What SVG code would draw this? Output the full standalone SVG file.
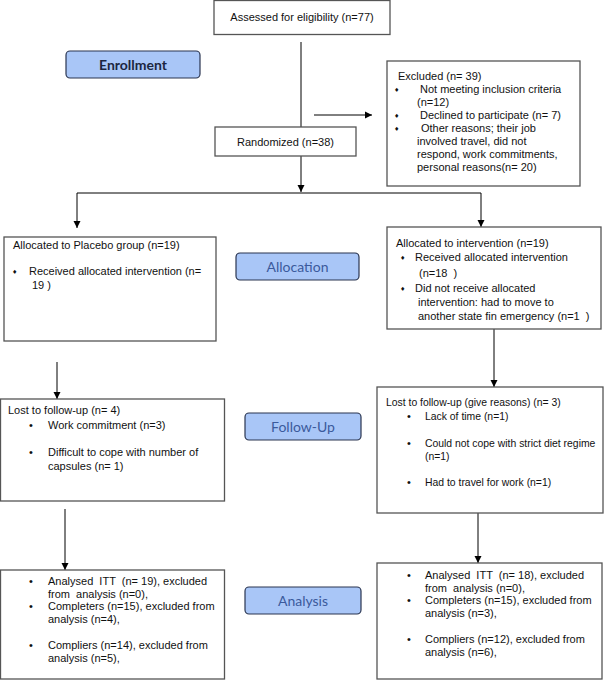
<svg xmlns="http://www.w3.org/2000/svg" width="615" height="685" viewBox="0 0 615 685">
<defs>
<marker id="ah" markerWidth="8" markerHeight="8" refX="7" refY="4" orient="auto" markerUnits="userSpaceOnUse">
<path d="M0,0.5 L7,4 L0,7.5 Z" fill="#000"/>
</marker>
<style>
.box{fill:#fff;stroke:#555;stroke-width:1.3}
.lab{fill:#a9c6f7;stroke:#2a3550;stroke-width:1.2}
.t{font-family:"Liberation Sans",Arial,sans-serif;font-size:11px;fill:#111;white-space:pre}
.s{font-size:10.4px}
.b{font-family:"DejaVu Sans",sans-serif;font-size:6px;fill:#111}
.d{font-family:"Liberation Sans",Arial,sans-serif;font-size:11px;fill:#111}
.lt{font-family:Lato,"Open Sans",sans-serif;font-size:14px;fill:#3b5a9c;text-anchor:middle}
.ln{fill:none;stroke:#000;stroke-width:1}
</style>
</defs>
<rect width="615" height="685" fill="#fff"/>

<g id="connectors">
<line class="ln" x1="301" y1="42" x2="301" y2="127"/>
<line class="ln" x1="314" y1="115" x2="372" y2="115" marker-end="url(#ah)"/>
<line class="ln" x1="301" y1="156" x2="301" y2="192" marker-end="url(#ah)"/>
<line class="ln" x1="77" y1="193" x2="481" y2="193"/>
<line class="ln" x1="77" y1="193" x2="77" y2="228" marker-end="url(#ah)"/>
<line class="ln" x1="481" y1="193" x2="481" y2="227" marker-end="url(#ah)"/>
<line class="ln" x1="57" y1="362" x2="57" y2="399" marker-end="url(#ah)"/>
<line class="ln" x1="494" y1="329" x2="494" y2="387" marker-end="url(#ah)"/>
<line class="ln" x1="65" y1="509" x2="65" y2="570" marker-end="url(#ah)"/>
<line class="ln" x1="478" y1="513" x2="478" y2="563" marker-end="url(#ah)"/>
</g>

<g id="assessed">
<rect class="box" x="214" y="0.5" width="176" height="34"/>
<text class="t" x="302" y="21" text-anchor="middle">Assessed for eligibility (n=77)</text>
</g>

<g id="enrollment">
<rect class="lab" x="66" y="51" width="134" height="27" rx="4"/>
<text class="lt" x="133" y="69.5" style="font-weight:bold;fill:#1c2640">Enrollment</text>
</g>

<g id="excluded">
<rect class="box" x="387" y="61" width="193" height="125"/>
<text class="t" x="398" y="80">Excluded (n= 39)</text>
<text class="b" x="394" y="92">♦</text>
<text class="t" x="420" y="93">Not meeting inclusion criteria</text>
<text class="t" x="417" y="106">(n=12)</text>
<text class="b" x="394" y="118">♦</text>
<text class="t" x="420" y="119">Declined to participate (n= 7)</text>
<text class="b" x="394" y="131">♦</text>
<text class="t" x="421" y="132">Other reasons; their job</text>
<text class="t" x="417" y="145">involved travel, did not</text>
<text class="t" x="417" y="158">respond, work commitments,</text>
<text class="t" x="417" y="171">personal reasons(n= 20)</text>
</g>

<g id="randomized">
<rect class="box" x="215" y="127" width="141" height="29"/>
<text class="t" x="285.5" y="146" text-anchor="middle">Randomized (n=38)</text>
</g>

<g id="placebo">
<rect class="box" x="4" y="237" width="212" height="104"/>
<text class="t" x="13" y="249">Allocated to Placebo group (n=19)</text>
<text class="b" x="12" y="274">♦</text>
<text class="t" x="29" y="275">Received allocated intervention (n=</text>
<text class="t" x="32" y="289">19 )</text>
</g>

<g id="allocation">
<rect class="lab" x="236" y="253" width="123" height="27" rx="4"/>
<text class="lt" x="297.5" y="271.5">Allocation</text>
</g>

<g id="intervention">
<rect class="box" x="387" y="227" width="214" height="102"/>
<text class="t" x="396" y="247">Allocated to intervention (n=19)</text>
<text class="b" x="400" y="260">♦</text>
<text class="t" x="415" y="261">Received allocated intervention</text>
<text class="t" x="419" y="277">(n=18  )</text>
<text class="b" x="400" y="291">♦</text>
<text class="t" x="415" y="292">Did not receive allocated</text>
<text class="t" x="418" y="306">intervention: had to move to</text>
<text class="t" x="418" y="320">another state fin emergency (n=1  )</text>
</g>

<g id="lost-placebo">
<rect class="box" x="0.5" y="399" width="224" height="102"/>
<text class="t" x="8" y="414">Lost to follow-up (n= 4)</text>
<text class="d" x="29" y="429">•</text>
<text class="t" x="48" y="429">Work commitment (n=3)</text>
<text class="d" x="29" y="456">•</text>
<text class="t" x="48" y="456">Difficult to cope with number of</text>
<text class="t" x="48" y="470">capsules (n= 1)</text>
</g>

<g id="followup">
<rect class="lab" x="245" y="413" width="116" height="27" rx="4"/>
<text class="lt" x="303" y="431.5">Follow-Up</text>
</g>

<g id="lost-intervention">
<rect class="box" x="377" y="387" width="226" height="126"/>
<text class="t s" x="386" y="406">Lost to follow-up (give reasons) (n= 3)</text>
<text class="d" x="407" y="420">•</text>
<text class="t s" x="425" y="420">Lack of time (n=1)</text>
<text class="d" x="407" y="447">•</text>
<text class="t s" x="425" y="447">Could not cope with strict diet regime</text>
<text class="t s" x="425" y="460">(n=1)</text>
<text class="d" x="407" y="486">•</text>
<text class="t s" x="425" y="486">Had to travel for work (n=1)</text>
</g>

<g id="analysis-placebo">
<rect class="box" x="0.5" y="570" width="224" height="109"/>
<text class="d" x="29" y="585">•</text>
<text class="t" x="48" y="585">Analysed  ITT  (n= 19), excluded</text>
<text class="t" x="48" y="598">from  analysis (n=0),</text>
<text class="d" x="29" y="610">•</text>
<text class="t" x="48" y="610">Completers (n=15), excluded from</text>
<text class="t" x="48" y="623">analysis (n=4),</text>
<text class="d" x="29" y="649">•</text>
<text class="t" x="48" y="649">Compliers (n=14), excluded from</text>
<text class="t" x="48" y="662">analysis (n=5),</text>
</g>

<g id="analysis">
<rect class="lab" x="245" y="587" width="116" height="27" rx="4"/>
<text class="lt" x="303" y="605.5">Analysis</text>
</g>

<g id="analysis-intervention">
<rect class="box" x="377" y="563" width="225" height="116"/>
<text class="d" x="407" y="579">•</text>
<text class="t" x="425" y="579">Analysed  ITT  (n= 18), excluded</text>
<text class="t" x="425" y="592">from  analysis (n=0),</text>
<text class="d" x="407" y="604">•</text>
<text class="t" x="425" y="604">Completers (n=15), excluded from</text>
<text class="t" x="425" y="617">analysis (n=3),</text>
<text class="d" x="407" y="643">•</text>
<text class="t" x="425" y="643">Compliers (n=12), excluded from</text>
<text class="t" x="425" y="656">analysis (n=6),</text>
</g>
</svg>
